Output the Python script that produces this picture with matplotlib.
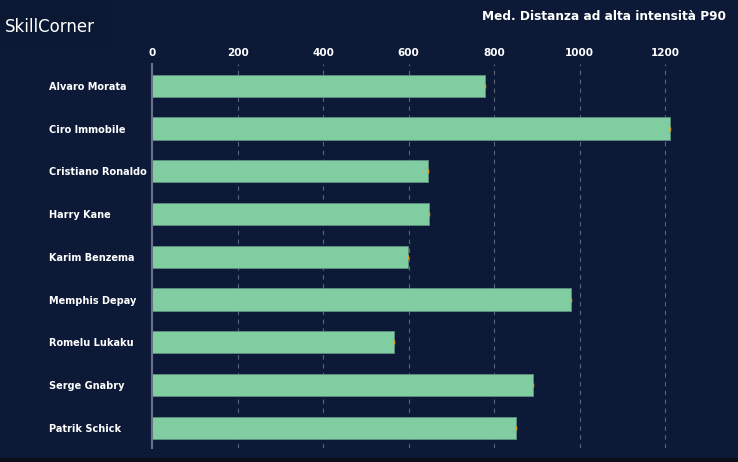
import matplotlib.pyplot as plt
from matplotlib.patches import Rectangle

BG = '#0d1a37'
BAR = '#80cda2'

players = ['Alvaro Morata', 'Ciro Immobile', 'Cristiano Ronaldo', 'Harry Kane',
           'Karim Benzema', 'Memphis Depay', 'Romelu Lukaku', 'Serge Gnabry',
           'Patrik Schick']
values = [778, 1210, 645, 647, 598, 979, 565, 890, 850]
ticks = [0, 200, 400, 600, 800, 1000, 1200]

fig = plt.figure(figsize=(7.38, 4.62), dpi=100, facecolor=BG)
ax = fig.add_axes([152/738, 1 - 448/462, 1 - 152/738, 384/462])
ax.set_facecolor(BG)

y = list(range(len(players)))
ax.barh(y, values, height=0.52, color=BAR, edgecolor='#5f8f80', linewidth=0.6, zorder=3)
# tiny orange marks at the end of each bar
ax.plot(values, y, linestyle='none', marker='|', markersize=3, color='#e0a020', zorder=4)

ax.set_xlim(0, 1370)
ax.set_ylim(8.47, -0.51)
ax.set_xticks(ticks)
ax.set_yticks(y)
ax.set_yticklabels(players)
ax.xaxis.tick_top()
ax.tick_params(axis='x', length=0, pad=4, labelsize=7.5, labelcolor='white')
ax.tick_params(axis='y', length=0, pad=74, labelsize=7, labelcolor='white')
for lab in ax.get_xticklabels() + ax.get_yticklabels():
    lab.set_fontweight('bold')
for lab in ax.get_yticklabels():
    lab.set_horizontalalignment('left')

ax.grid(axis='x', color='#5a6478', linestyle=(0, (4, 4)), linewidth=0.8, zorder=0)
for s in ['top', 'right', 'bottom']:
    ax.spines[s].set_visible(False)
ax.spines['left'].set_color('#6a7386')
ax.spines['left'].set_linewidth(1.5)
ax.spines['left'].set_zorder(5)

# logo box and title
fig.patches.append(Rectangle((0, 1 - 48/462), 113/738, 48/462, transform=fig.transFigure,
                             facecolor='#0b1833', edgecolor='none', zorder=0))
fig.text(5/738, 1 - 27/462, 'SkillCorner', color='white', fontsize=12, va='center', ha='left')
fig.text(482/738, 1 - 17/462, 'Med. Distanza ad alta intensità P90', color='white',
         fontsize=8.7, fontweight='bold', va='center', ha='left')

# dark strip at the bottom
fig.patches.append(Rectangle((0, 0), 1, 4/462, transform=fig.transFigure,
                             facecolor='#0a0f18', edgecolor='none', zorder=0))

fig.savefig('out.png', dpi=100, facecolor=BG)
